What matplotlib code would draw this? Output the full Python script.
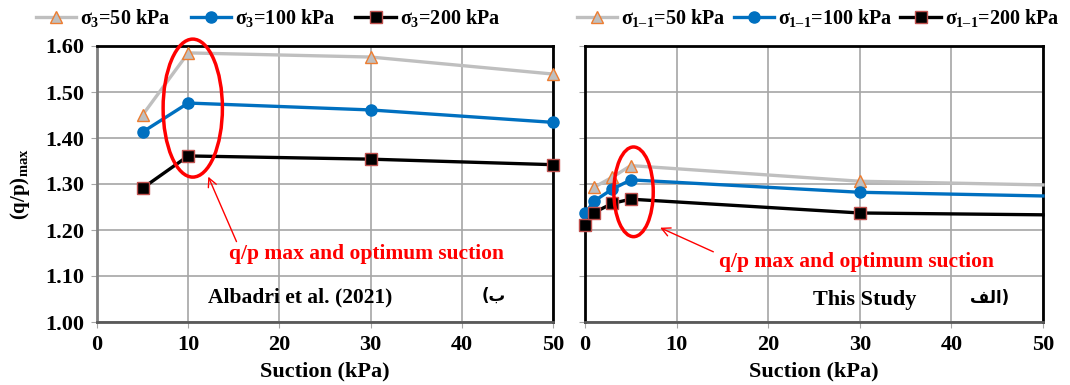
import matplotlib
matplotlib.use("Agg")
import matplotlib.pyplot as plt
from matplotlib.patches import Ellipse

# suction values (kPa) and (q/p)max for each confining stress
albadri_suction = [5, 10, 30, 50]
albadri_50 = [1.450, 1.585, 1.576, 1.539]
albadri_100 = [1.413, 1.476, 1.461, 1.434]
albadri_200 = [1.291, 1.361, 1.354, 1.342]

study_suction_50 = [1, 3, 5, 30, 50]
study_50 = [1.293, 1.315, 1.340, 1.306, 1.298]
study_suction = [0, 1, 3, 5, 30, 50]
study_100 = [1.236, 1.263, 1.289, 1.309, 1.282, 1.274]
study_200 = [1.211, 1.238, 1.258, 1.267, 1.237, 1.233]

x_ticks = [0, 10, 20, 30, 40, 50]
y_ticks = [1.00, 1.10, 1.20, 1.30, 1.40, 1.50, 1.60]

plt.rcParams['mathtext.fontset'] = 'custom'
plt.rcParams['mathtext.rm'] = 'Liberation Serif:bold'
plt.rcParams['mathtext.it'] = 'Liberation Serif:bold'
plt.rcParams['mathtext.bf'] = 'Liberation Serif:bold'
plt.rcParams['font.family'] = ['Liberation Serif', 'DejaVu Sans']
plt.rcParams['font.weight'] = 'bold'

GRAY = '#BFBFBF'
ORANGE = '#ED7D31'
BLUE = '#0070C0'
SQ_EDGE = '#C0504D'
GRID = '#A6A6A6'
RED = '#FF0000'

fig = plt.figure(figsize=(10.7, 3.85), dpi=100)
ax1 = fig.add_axes([97 / 1070, 63 / 385, 456 / 1070, 276 / 385])
ax2 = fig.add_axes([585 / 1070, 63 / 385, 458 / 1070, 276 / 385])


def style_axes(ax, show_y):
    ax.set_xlim(0, 50)
    ax.set_ylim(1.0, 1.6)
    ax.set_xticks(x_ticks)
    ax.set_yticks(y_ticks)
    ax.grid(True, color=GRID, linewidth=1.2)
    ax.set_axisbelow(True)
    ax.tick_params(axis='both', direction='out', length=4, color=GRID,
                   labelsize=16, pad=5)
    ax.set_xticklabels([str(t) for t in x_ticks], fontweight='bold')
    if show_y:
        ax.set_yticklabels([f'{t:.2f}' for t in y_ticks], fontweight='bold')
        ax.spines['left'].set_color('#7F7F7F')
    else:
        ax.tick_params(axis='y', labelleft=False)
        ax.spines['left'].set_color('black')
    ax.spines['left'].set_linewidth(2)
    ax.spines['bottom'].set_color('#595959')
    ax.spines['bottom'].set_linewidth(2)
    for s in ('top', 'right'):
        ax.spines[s].set_color('black')
        ax.spines[s].set_linewidth(2)
    ax.set_xlabel('Suction (kPa)', fontsize=16, fontweight='bold', labelpad=5)


def draw_series(ax, xs, ys, marker, color, mfc, mec, ms, label, markevery=None):
    ax.plot(xs, ys, color=color, linewidth=2.4, marker=marker, markersize=ms,
            markerfacecolor=mfc, markeredgecolor=mec, markeredgewidth=1.0,
            markevery=markevery, label=label, clip_on=False, zorder=3)


# left panel
draw_series(ax1, albadri_suction, albadri_50, '^', GRAY, GRAY, ORANGE, 9,
            r'$\sigma_3$=50 kPa')
draw_series(ax1, albadri_suction, albadri_100, 'o', BLUE, BLUE, BLUE, 8,
            r'$\sigma_3$=100 kPa')
draw_series(ax1, albadri_suction, albadri_200, 's', 'black', 'black', SQ_EDGE, 8,
            r'$\sigma_3$=200 kPa')
style_axes(ax1, True)
ax1.set_ylabel(r'(q/p)$_{\mathregular{max}}$', fontsize=15, fontweight='bold',
               labelpad=10)

# right panel
sub = '1\u20131'
draw_series(ax2, study_suction_50, study_50, '^', GRAY, GRAY, ORANGE, 9,
            r'$\sigma_{%s}$=50 kPa' % sub, markevery=[0, 1, 2, 3])
draw_series(ax2, study_suction, study_100, 'o', BLUE, BLUE, BLUE, 8,
            r'$\sigma_{%s}$=100 kPa' % sub, markevery=[0, 1, 2, 3, 4])
draw_series(ax2, study_suction, study_200, 's', 'black', 'black', SQ_EDGE, 8,
            r'$\sigma_{%s}$=200 kPa' % sub, markevery=[0, 1, 2, 3, 4])
style_axes(ax2, False)

# legends above each panel
for ax, cx in ((ax1, 268 / 1070), (ax2, 818 / 1070)):
    ax.legend(loc='center', bbox_to_anchor=(cx, 1 - 18 / 385),
              bbox_transform=fig.transFigure, ncol=3, frameon=False,
              fontsize=14.5, handlelength=2.0, handletextpad=0.2,
              columnspacing=1.0 if ax is ax1 else 0.4)

# optimum suction highlights
ax1.add_patch(Ellipse((10.5, 1.465), 6.5, 0.30, fill=False, edgecolor=RED,
                      linewidth=2.5, clip_on=False, zorder=4))
ax2.add_patch(Ellipse((5.3, 1.283), 4.3, 0.195, fill=False, edgecolor=RED,
                      linewidth=2.5, clip_on=False, zorder=4))

ax1.annotate('q/p max and optimum suction', xy=(12.2, 1.316), xytext=(29.6, 1.147),
             fontsize=15.5, fontweight='bold', color=RED, ha='center', va='center',
             arrowprops=dict(arrowstyle='->', color=RED, lw=1,
                             relpos=(0.03, 1.0), shrinkA=0, shrinkB=0))
ax2.annotate('q/p max and optimum suction', xy=(8.2, 1.205), xytext=(29.6, 1.13),
             fontsize=15.5, fontweight='bold', color=RED, ha='center', va='center',
             arrowprops=dict(arrowstyle='->', color=RED, lw=1,
                             relpos=(0.0, 0.9), shrinkA=2, shrinkB=0))

# panel captions
ax1.text(22.3, 1.053, 'Albadri et al. (2021)', fontsize=15.5, fontweight='bold',
         ha='center', va='center')
ax1.text(43.5, 1.058, '(\uFE8F', fontsize=12, family=['DejaVu Sans'],
         ha='center', va='center')
ax2.text(30.5, 1.047, 'This Study', fontsize=16, fontweight='bold',
         ha='center', va='center')
ax2.text(44.2, 1.052, '\uFED2\uFEDF\uFE8D)', fontsize=12,
         family=['DejaVu Sans'], ha='center', va='center')

fig.savefig('out.png', dpi=100)
